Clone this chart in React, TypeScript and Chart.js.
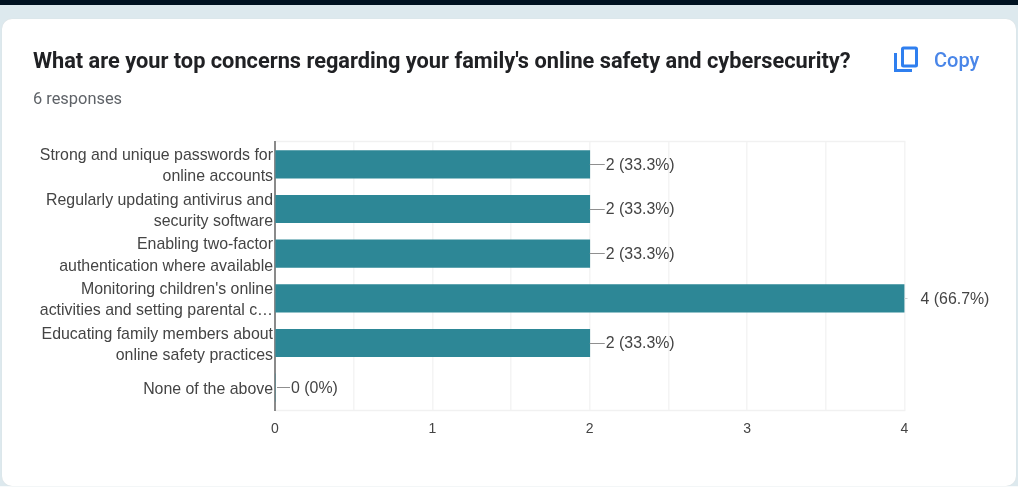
import React, { useEffect, useRef } from "react";
import { Chart, registerables } from "chart.js";

Chart.register(...registerables);

const questionTitle = "What are your top concerns regarding your family's online safety and cybersecurity?";
const responsesText = "6 responses";
const copyText = "Copy";
const categories: string[][] = [
  ["Strong and unique passwords for", "online accounts"],
  ["Regularly updating antivirus and", "security software"],
  ["Enabling two-factor", "authentication where available"],
  ["Monitoring children's online", "activities and setting parental c…"],
  ["Educating family members about", "online safety practices"],
  ["None of the above"],
];
const counts = [2, 2, 2, 4, 2, 0];
const valueLabels = ["2 (33.3%)", "2 (33.3%)", "2 (33.3%)", "4 (66.7%)", "2 (33.3%)", "0 (0%)"];

const LABEL_FONT = '15.9px "Liberation Sans", Arial, sans-serif';

const framePlugin = {
  id: "frameLines",
  beforeDatasetsDraw(chart: any) {
    const { ctx, chartArea } = chart;
    ctx.save();
    ctx.strokeStyle = "#f1f1f1";
    ctx.lineWidth = 1.5;
    ctx.beginPath();
    ctx.moveTo(chartArea.left, chartArea.top - 0.5);
    ctx.lineTo(chartArea.right + 1, chartArea.top - 0.5);
    ctx.moveTo(chartArea.left, chartArea.bottom + 0.5);
    ctx.lineTo(chartArea.right + 1, chartArea.bottom + 0.5);
    ctx.stroke();
    ctx.strokeStyle = "#8a8a8a";
    ctx.lineWidth = 2;
    ctx.beginPath();
    ctx.moveTo(chartArea.left, chartArea.top - 1);
    ctx.lineTo(chartArea.left, chartArea.bottom + 1);
    ctx.stroke();
    ctx.restore();
  },
};

const valueLabelPlugin = {
  id: "valueLabels",
  afterDatasetsDraw(chart: any) {
    const { ctx, scales } = chart;
    const x = scales.x;
    const y = scales.y;
    ctx.save();
    ctx.font = LABEL_FONT;
    ctx.textBaseline = "middle";
    ctx.textAlign = "left";
    counts.forEach((v, i) => {
      const px = x.getPixelForValue(v);
      const py = y.getPixelForValue(i);
      const isLong = v === Math.max(...counts);
      ctx.strokeStyle = isLong ? "#cfcfcf" : "#8f8f8f";
      ctx.lineWidth = 1;
      ctx.beginPath();
      ctx.moveTo(px + (v === 0 ? 2 : 0), Math.floor(py) + 0.5);
      ctx.lineTo(px + (isLong ? 3 : 15), Math.floor(py) + 0.5);
      ctx.stroke();
      ctx.fillStyle = "#444444";
      ctx.fillText(valueLabels[i], px + 16, py + 1);
    });
    ctx.restore();
  },
};

export default function App() {
  const ref = useRef<HTMLCanvasElement>(null);
  useEffect(() => {
    const chart = new Chart(ref.current as HTMLCanvasElement, {
      type: "bar",
      data: {
        labels: categories,
        datasets: [
          {
            data: counts,
            backgroundColor: "#2d8796",
            borderWidth: 0,
            barThickness: 27.5,
          },
        ],
      },
      options: {
        indexAxis: "y",
        animation: false,
        responsive: false,
        layout: { padding: { left: 0, top: 142, right: 113.5, bottom: 0 } },
        plugins: { legend: { display: false }, tooltip: { enabled: false }, title: { display: false } },
        scales: {
          x: {
            type: "linear",
            min: 0,
            max: 4,
            afterFit: (s: any) => {
              s.height = 77;
            },
            grid: {
              color: "#f4f4f4",
              drawTicks: false,
              lineWidth: 1.5,
            },
            border: { display: false },
            ticks: {
              stepSize: 0.5,
              autoSkip: false,
              maxRotation: 0,
              padding: 11,
              color: "#444444",
              font: { family: '"Liberation Sans", Arial, sans-serif', size: 14 },
              callback: (v: any) => (Number.isInteger(v) ? String(v) : ""),
            },
          },
          y: {
            type: "category",
            afterFit: (s: any) => {
              s.width = 275;
            },
            grid: { display: false, drawTicks: false },
            border: { display: false },
            ticks: {
              padding: 2,
              autoSkip: false,
              labelOffset: 2,
              color: "#444444",
              font: { family: '"Liberation Sans", Arial, sans-serif', size: 15.9, lineHeight: 1.35 },
            },
          },
        },
      },
      plugins: [framePlugin, valueLabelPlugin],
    } as any);
    return () => chart.destroy();
  }, []);

  return (
    <div style={{ position: "absolute", left: 0, top: 0, width: 1018, height: 487, overflow: "hidden", background: "#dde9ee", fontFamily: "Roboto, sans-serif" }}>
      <div style={{ position: "absolute", left: 0, top: 486, width: 1018, height: 1, background: "#f7fafb" }} />
      <div style={{ position: "absolute", left: 0, top: 0, width: 1018, height: 5, background: "#001221" }} />
      <div style={{ position: "absolute", left: 2, top: 19, width: 1014, height: 467, background: "#ffffff", borderRadius: 10, boxShadow: "0 0 1px #d8d8d8" }} />
      <div style={{ position: "absolute", left: 0, top: 0, width: 1018, height: 487, filter: "blur(0.4px)" }}>
        <canvas ref={ref} width={1018} height={487} style={{ position: "absolute", left: 0, top: 0, display: "block" }} />
        <div style={{ position: "absolute", left: 33, top: 48, fontSize: 21.75, lineHeight: "26px", fontWeight: 700, color: "#202124", whiteSpace: "nowrap" }}>{questionTitle}</div>
        <div style={{ position: "absolute", left: 33, top: 89, fontSize: 16.4, lineHeight: "20px", color: "#5f6368", whiteSpace: "nowrap" }}>{responsesText}</div>
        <svg width={26} height={28} viewBox="0 0 26 28" style={{ position: "absolute", left: 893, top: 46 }}>
          <rect x={9.5} y={2} width={14} height={18} rx={1} fill="none" stroke="#2f7fef" strokeWidth={3} />
          <path d="M2.5 7 V24.5 H19" fill="none" stroke="#2f7fef" strokeWidth={3} />
        </svg>
        <div style={{ position: "absolute", left: 934, top: 47, fontSize: 20, lineHeight: "26px", fontWeight: 500, color: "#4a86e8", whiteSpace: "nowrap" }}>{copyText}</div>
      </div>
    </div>
  );
}
